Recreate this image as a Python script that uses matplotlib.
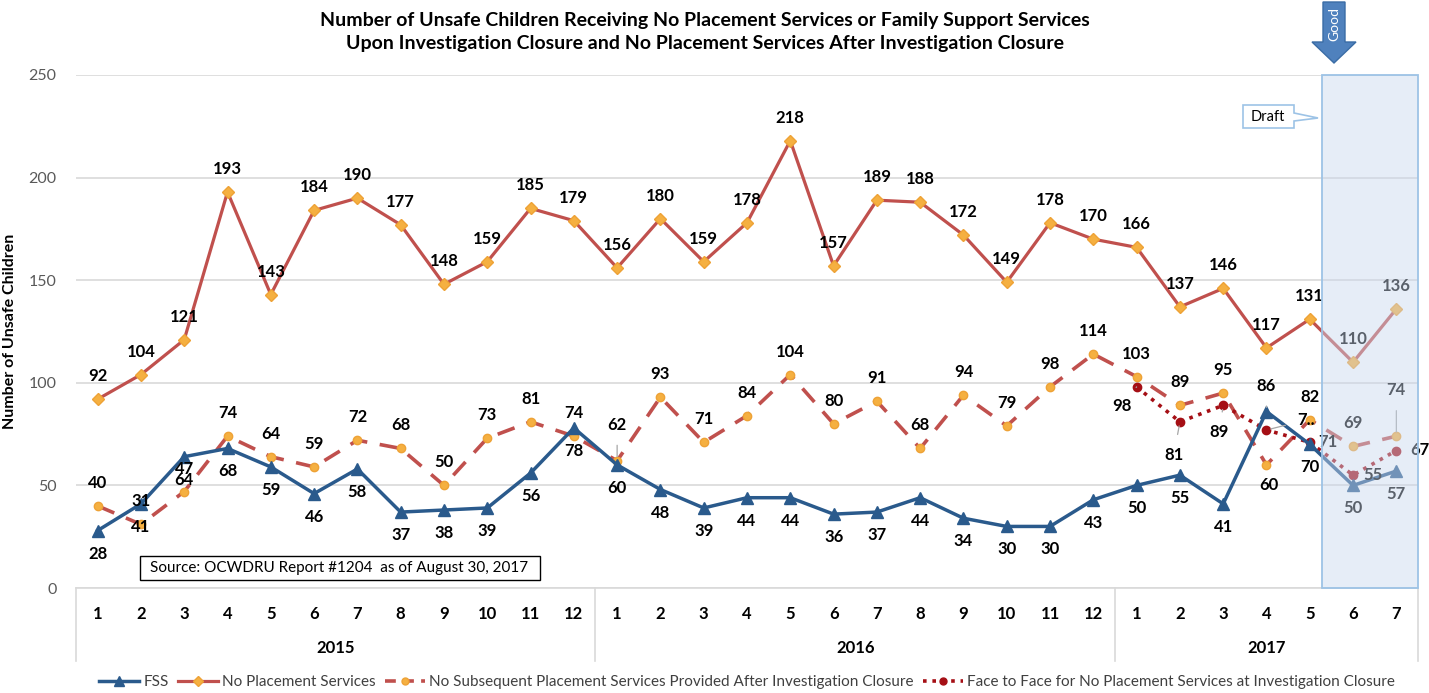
import matplotlib
matplotlib.use("Agg")
import matplotlib.pyplot as plt
from matplotlib.patches import Rectangle, Polygon
from matplotlib.lines import Line2D
import matplotlib.transforms as mtransforms

plt.rcParams['font.family'] = ['Lato', 'DejaVu Sans']

# ---------------- data ----------------
years = ["2015", "2016", "2017"]
months = [str(m) for m in range(1, 13)] * 2 + [str(m) for m in range(1, 8)]

fss = [28, 41, 64, 68, 59, 46, 58, 37, 38, 39, 56, 78,
       60, 48, 39, 44, 44, 36, 37, 44, 34, 30, 30, 43,
       50, 55, 41, 86, 70, 50, 57]
no_placement = [92, 104, 121, 193, 143, 184, 190, 177, 148, 159, 185, 179,
                156, 180, 159, 178, 218, 157, 189, 188, 172, 149, 178, 170,
                166, 137, 146, 117, 131, 110, 136]
no_subsequent = [40, 31, 47, 74, 64, 59, 72, 68, 50, 73, 81, 74,
                 62, 93, 71, 84, 104, 80, 91, 68, 94, 79, 98, 114,
                 103, 89, 95, 60, 82, 69, 74]
face_to_face = [98, 81, 89, 77, 71, 55, 67]   # 2017 months 1-7
face_labels = ["98", "81", "89", "7..", "71", "55", "67"]

title = ("Number of Unsafe Children Receiving No Placement Services or Family Support Services\n"
         "Upon Investigation Closure and No Placement Services After Investigation Closure")
ylabel = "Number of Unsafe Children"
source = "Source: OCWDRU Report #1204  as of August 30, 2017"
legend_labels = ["FSS", "No Placement Services",
                 "No Subsequent Placement Services Provided After Investigation Closure",
                 "Face to Face for No Placement Services at Investigation Closure"]

# ---------------- figure ----------------
W, H = 1429, 693
fig = plt.figure(figsize=(W / 100, H / 100), dpi=100)

def fx(px):
    return px / W

def fy(py):
    return 1 - py / H

ax = fig.add_axes([fx(76), fy(588), fx(1418) - fx(76), fy(75) - fy(588)])
n = len(months)
x = list(range(n))
x_ff = x[24:]

C_FSS = '#2a5a8c'
C_NP = '#c0504d'
C_MK = '#f5b041'
C_FF = '#a50f15'

ax.plot(x, no_placement, color=C_NP, lw=2.3, marker='D', ms=6,
        mfc=C_MK, mec='#eea236', zorder=4)
ax.plot(x, no_subsequent, color=C_NP, lw=2.6, dashes=(5, 3.5), marker='o', ms=6,
        mfc=C_MK, mec='#eea236', zorder=3)
ax.plot(x_ff, face_to_face, color=C_FF, lw=2.6, linestyle=(0, (1, 1.6)), marker='o', ms=6,
        mfc=C_FF, mec=C_FF, zorder=5)
ax.plot(x, fss, color=C_FSS, lw=2.5, marker='^', ms=8, mfc=C_FSS, mec=C_FSS, zorder=6)

ax.set_xlim(-0.5, n - 0.5)
ax.set_ylim(0, 250)
ax.set_yticks([0, 50, 100, 150, 200, 250])
ax.tick_params(axis='y', length=0, labelsize=11.5, labelcolor='#595959', pad=14)
ax.yaxis.grid(True, color='#d9d9d9', lw=1.2)
ax.set_axisbelow(True)
for s in ['top', 'right', 'left']:
    ax.spines[s].set_visible(False)
ax.spines['bottom'].set_color('#d9d9d9')
ax.spines['bottom'].set_linewidth(1.2)

ax.set_xticks(x)
ax.set_xticklabels(months, fontsize=12, fontweight='bold')
ax.tick_params(axis='x', length=0, pad=13)
ax.set_ylabel(ylabel, fontsize=11.5, fontweight='bold', labelpad=8)

# year separators and labels
trans = mtransforms.blended_transform_factory(ax.transData, ax.transAxes)
for sx in [-0.5, 11.5, 23.5, n - 0.5]:
    ax.add_line(Line2D([sx, sx], [0, -0.142], transform=trans, color='#d9d9d9',
                       lw=1.2, clip_on=False))
for yr, cx in zip(years, [5.5, 17.5, 27.0]):
    ax.text(cx, -0.117, yr, transform=trans, ha='center', va='center',
            fontsize=12, fontweight='bold')

# ---------------- data labels ----------------
def lab(xv, yv, text, dx, dy, leader=False):
    kw = {}
    if leader:
        kw['arrowprops'] = dict(arrowstyle='-', color='#a6a6a6', lw=0.9,
                                shrinkA=7, shrinkB=3)
    ax.annotate(text, (xv, yv), xytext=(dx, dy), textcoords='offset pixels',
                ha='center', va='center', fontsize=12, fontweight='bold',
                color='black', zorder=8, **kw)

for i, v in enumerate(no_placement):
    lab(i, v, str(v), 0, 23)

for i, v in enumerate(no_subsequent):
    if i == 12:
        lab(i, v, str(v), 0, 36, leader=True)
    elif i == 27:
        lab(i, v, str(v), 2, -20)
    elif i == 30:
        lab(i, v, str(v), 0, 46, leader=True)
    else:
        lab(i, v, str(v), 0, 23)

for i, v in enumerate(fss):
    if i == 27:
        lab(i, v, str(v), 0, 26, leader=True)
    else:
        lab(i, v, str(v), 0, -23)

ff_offsets = [(-15, -19, True), (-6, -33, True), (-4, -27, True), (40, 10, True),
              (18, 0, False), (20, 0, False), (24, 1, False)]
for xi, v, t, (dx, dy, ld) in zip(x_ff, face_to_face, face_labels, ff_offsets):
    lab(xi, v, t, dx, dy, leader=ld)

# ---------------- draft shading ----------------
x0 = 28.28
ax.add_patch(Rectangle((x0, 0), n - 0.5 - x0, 250, facecolor='#c9d8ee', alpha=0.45,
                       edgecolor='none', zorder=9, clip_on=False))
ax.add_patch(Rectangle((x0, 0), n - 0.5 - x0, 250, facecolor='none',
                       edgecolor='#9dc3e6', lw=1.3, zorder=10, clip_on=False))

# Draft callout
callout = Polygon([(fx(1243), fy(105)), (fx(1294), fy(105)), (fx(1294), fy(113)),
                   (fx(1318), fy(118)), (fx(1294), fy(121)), (fx(1294), fy(128)),
                   (fx(1243), fy(128))], closed=True, transform=fig.transFigure,
                  facecolor='white', edgecolor='#9dc3e6', lw=1.2, zorder=11)
fig.patches.append(callout)
fig.text(fx(1268), fy(117), "Draft", ha='center', va='center', fontsize=10.5, zorder=20)

# Good arrow
arrow = Polygon([(fx(1323), fy(2)), (fx(1345), fy(2)), (fx(1345), fy(42)),
                 (fx(1356), fy(42)), (fx(1334), fy(63)), (fx(1312), fy(42)),
                 (fx(1323), fy(42))], closed=True, transform=fig.transFigure,
                facecolor='#4f81bd', edgecolor='#3a6ca5', lw=1.0, zorder=11)
fig.patches.append(arrow)
fig.text(fx(1334), fy(24), "Good", rotation=90, ha='center', va='center',
         fontsize=10, color='white', zorder=20)

# Source box
fig.patches.append(Rectangle((fx(140), fy(580)), fx(540) - fx(140), fy(556) - fy(580),
                             transform=fig.transFigure, facecolor='white',
                             edgecolor='black', lw=1.0, zorder=12))
fig.text(fx(150), fy(568), source, ha='left', va='center', fontsize=11, zorder=20)

# Title
fig.text(fx(705), fy(32), title, ha='center', va='center', fontsize=14,
         fontweight='bold', linespacing=1.45)

# Legend
handles = [
    Line2D([], [], color=C_FSS, lw=2.5, marker='^', ms=7, mfc=C_FSS, mec=C_FSS),
    Line2D([], [], color=C_NP, lw=2.3, marker='D', ms=5, mfc=C_MK, mec='#eea236'),
    Line2D([], [], color=C_NP, lw=2.6, dashes=(3, 2), marker='o', ms=5, mfc=C_MK, mec='#eea236'),
    Line2D([], [], color=C_FF, lw=2.6, linestyle=(0, (1, 1.6)), marker='o', ms=5, mfc=C_FF, mec=C_FF),
]
fig.legend(handles, legend_labels, loc='center', bbox_to_anchor=(fx(747), fy(682)),
           ncol=4, frameon=False, fontsize=11, handlelength=2.6, handletextpad=0.3,
           columnspacing=0.6, labelcolor='#404040')

fig.savefig("out.png", dpi=100)
